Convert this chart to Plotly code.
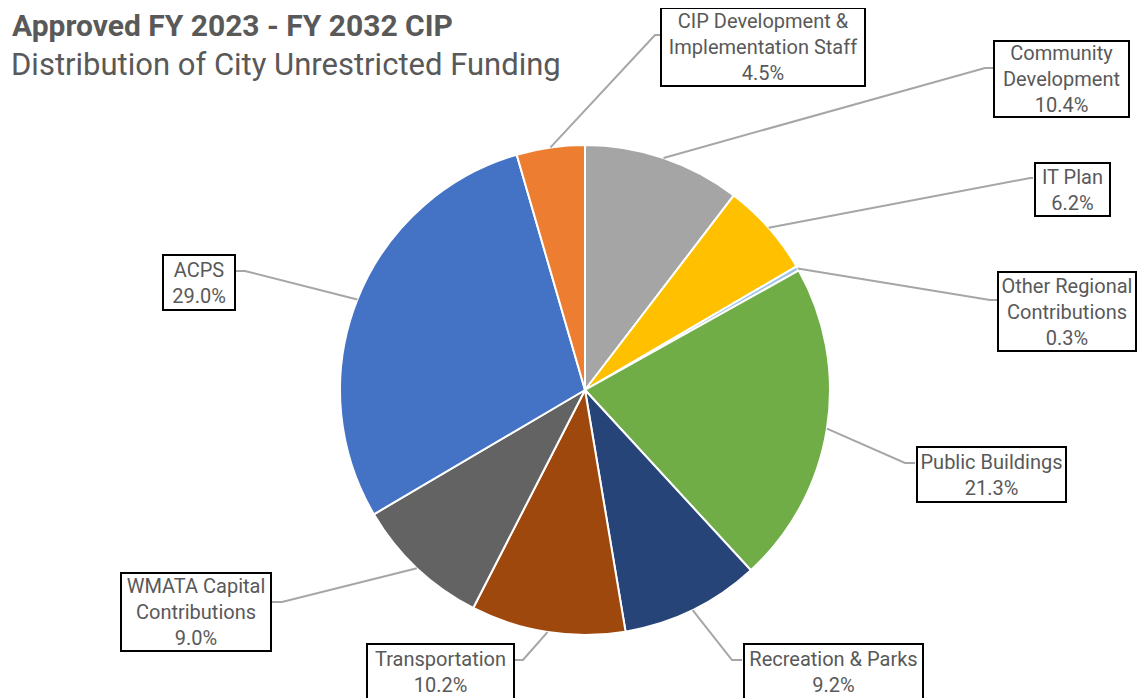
import math
import plotly.graph_objects as go

categories = ["Community Development", "IT Plan", "Other Regional Contributions",
              "Public Buildings", "Recreation & Parks", "Transportation",
              "WMATA Capital Contributions", "ACPS", "CIP Development & Implementation Staff"]
values = [10.4, 6.2, 0.3, 21.3, 9.2, 10.2, 9.0, 29.0, 4.5]
label_text = ["Community<br>Development", "IT Plan", "Other Regional<br>Contributions",
              "Public Buildings", "Recreation & Parks", "Transportation",
              "WMATA Capital<br>Contributions", "ACPS", "CIP Development &<br>Implementation Staff"]
colors = ["#A5A5A5", "#FFC000", "#9DC3E6", "#70AD47", "#264478", "#9E480E",
          "#636363", "#4472C4", "#ED7D31"]

W, H = 1145, 698
OFF = 8  # page body margin in the browser
CX, CY, R = 585, 390, 245

# label box layout (pixels): center x, center y, box width, box height, bend x, bend y, box edge x
boxes = [
    (1061, 79, 137, 78, 985, 68, 993),
    (1072, 189, 77, 55, 1030, 178, 1033),
    (1067, 311, 140, 81, 990, 300, 997),
    (991, 474, 151, 57, 905, 463, 915),
    (833, 671, 181, 57, 732, 660, 742),
    (440, 671, 149, 57, 523, 660, 515),
    (196, 612, 152, 80, 282, 602, 272),
    (199, 282, 74, 57, 245, 271, 236),
    (763, 47, 206, 80, 655, 35, 660),
]

def px(x):
    return (x - OFF) / W

def py(y):
    return 1 - (y - OFF) / H

fig = go.Figure(go.Pie(
    labels=categories, values=values, sort=False, direction="clockwise", rotation=0,
    marker=dict(colors=colors, line=dict(color="white", width=2)),
    textinfo="none", hoverinfo="label+percent", showlegend=False,
    domain=dict(x=[px(CX - R), px(CX + R)], y=[py(CY + R), py(CY - R)]),
))

total = sum(values)
cum = 0
shapes = []
annotations = []
font_family = "Roboto, Arial"
for i, v in enumerate(values):
    mid = (cum + v / 2) / total * 2 * math.pi
    cum += v
    sx = CX + R * math.sin(mid)
    sy = CY - R * math.cos(mid)
    bx, by, bw, bh, kx, ky, ex = boxes[i]
    shapes.append(dict(type="path", xref="paper", yref="paper",
                       path=f"M {px(sx)},{py(sy)} L {px(kx)},{py(ky)} L {px(ex)},{py(ky)}",
                       line=dict(color="#A6A6A6", width=2)))
    annotations.append(dict(
        x=px(bx), y=py(by), xref="paper", yref="paper", xanchor="center", yanchor="middle",
        text=f"{label_text[i]}<br>{values[i]:.1f}%", showarrow=False,
        font=dict(family=font_family, size=20, color="#595959"),
        bordercolor="black", borderwidth=2, borderpad=0, bgcolor="white",
        width=bw - 4, height=bh - 4, align="center"))

annotations.append(dict(x=px(10), y=py(26), xref="paper", yref="paper", xanchor="left",
                        yanchor="middle", showarrow=False,
                        text="<b>Approved FY 2023 - FY 2032 CIP</b>",
                        font=dict(family=font_family, size=30, color="#595959")))
annotations.append(dict(x=px(9), y=py(64), xref="paper", yref="paper", xanchor="left",
                        yanchor="middle", showarrow=False,
                        text="Distribution of City Unrestricted Funding",
                        font=dict(family=font_family, size=31, color="#595959")))

fig.update_layout(width=W, height=H, margin=dict(l=0, r=0, t=0, b=0),
                  paper_bgcolor="white", plot_bgcolor="white",
                  shapes=shapes, annotations=annotations)
fig.write_html("out.html")
